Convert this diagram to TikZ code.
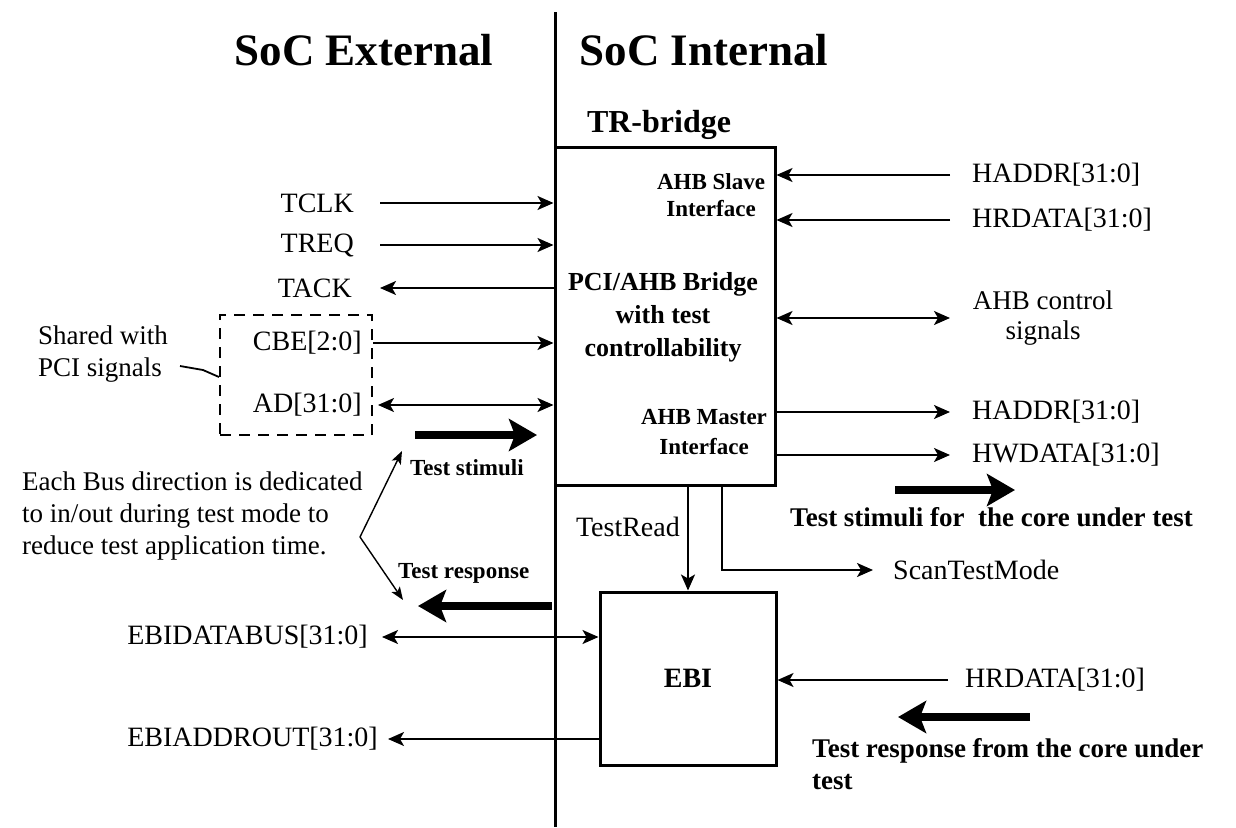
\documentclass[tikz,border=0pt]{standalone}
\usepackage{fontspec}
\setmainfont{Liberation Serif}
\usetikzlibrary{arrows.meta}
\tikzset{
  sigtip/.tip={Stealth[length=16pt,width=14pt,inset=4pt]},
  lbl/.style={inner sep=0pt, font=\fontsize{28}{32}\selectfont},
  note/.style={inner sep=0pt, align=left, font=\fontsize{27}{32}\selectfont},
  blbl/.style={inner sep=0pt, align=center, font=\bfseries\fontsize{23}{27}\selectfont},
  bnote/.style={inner sep=0pt, align=left, font=\bfseries\fontsize{23}{28}\selectfont},
  bbig/.style={inner sep=0pt, align=left, font=\bfseries\fontsize{27}{32}\selectfont},
  title/.style={inner sep=0pt, font=\bfseries\fontsize{45}{50}\selectfont},
  sig/.style={line width=1.8pt},
  fat/.style={line width=7.5pt, -{Stealth[length=28pt,width=32pt,inset=6pt]}},
  blockbox/.style={draw, line width=3pt, inner sep=0pt},
  dbox/.style={draw, line width=2pt, dash pattern=on 11pt off 8pt, inner sep=0pt},
}
\begin{document}
\begin{tikzpicture}[x=1pt,y=-1pt]
\useasboundingbox (0,0) rectangle (1236,827);

% titles
\node[title] (ext) at (364,50) {SoC External};
\node[title] (int) at (704,50) {SoC Internal};
\node[inner sep=0pt, font=\bfseries\fontsize{32}{36}\selectfont] (trb) at (659,125) {TR-bridge};

% blocks
\node[blockbox, minimum width=220pt, minimum height=338pt] (tr) at (665,316) {};
\node[blockbox, minimum width=176pt, minimum height=173pt, font=\bfseries\fontsize{28}{32}\selectfont] (ebi) at (688,678.5) {EBI};

% divider
\coordinate (dtop) at (555,12);
\coordinate (dbot) at (555,827);
\draw[line width=3pt] (dtop) -- (dbot);

% texts inside TR-bridge
\node[blbl] (slv) at (711,195) {AHB Slave\\Interface};
\node[inner sep=0pt, align=center, font=\bfseries\fontsize{26}{33}\selectfont] (brg) at (663,317) {PCI/AHB Bridge\\with test\\controllability};
\node[blbl, font=\bfseries\fontsize{23}{30}\selectfont] (mst) at (704,432) {AHB Master\\Interface};

% left signals
\node[lbl, anchor=east] (tclk) at (354,203) {TCLK};
\node[lbl, anchor=east] (treq) at (354,245) {TREQ};
\node[lbl, anchor=east] (tack) at (352,288) {TACK};
\node[lbl, anchor=east] (cbe) at (362,343) {CBE[2:0]};
\node[lbl, anchor=east] (ad) at (362,405) {AD[31:0]};
\node[dbox, minimum width=152pt, minimum height=120pt] (shbox) at (296,375) {};

\draw[sig,-sigtip] ([xshift=26pt]tclk.east) -- (tclk.east -| tr.west);
\draw[sig,-sigtip] ([xshift=26pt]treq.east) -- (treq.east -| tr.west);
\draw[sig,-sigtip] (tack.east -| tr.west) -- ([xshift=28pt]tack.east);
\draw[sig,-sigtip] (cbe.east -| shbox.east) -- (cbe.east -| tr.west);
\draw[sig,sigtip-sigtip] ([xshift=16pt]ad.east) -- (ad.east -| tr.west);

\node[note] (shr) at (103,354) {Shared with\\PCI signals};
\coordinate (ld1) at (180,366);
\coordinate (ld2) at (203,370);
\draw[sig] (ld1) -- (ld2) -- (shbox.west |- 0,377);

% test stimuli / response (left)
\coordinate (ts1) at (415,435);
\coordinate (ts2) at (537,435);
\draw[fat] (ts1) -- (ts2);
\node[bnote, anchor=west] (tstim) at (410,468) {Test stimuli};

\node[note, anchor=west] (each) at (22,516) {Each Bus direction is dedicated\\to in/out during test mode to\\reduce test application time.};
\coordinate (apex) at (360,537);
\coordinate (vt1) at (402,451);
\coordinate (vt2) at (403,600);
\draw[line width=1.4pt,-{Stealth[length=13pt,width=10pt,inset=3pt]}] (apex) -- (vt1);
\draw[line width=1.4pt,-{Stealth[length=13pt,width=10pt,inset=3pt]}] (apex) -- (vt2);

\node[bnote, anchor=west] (tresp) at (398,573) {Test response};
\coordinate (tr1) at (552,606);
\coordinate (tr2) at (418,606);
\draw[fat] (tr1) -- (tr2);

% EBI left side
\node[lbl, anchor=east] (edb) at (368,637) {EBIDATABUS[31:0]};
\node[lbl, anchor=east] (ead) at (378,739) {EBIADDROUT[31:0]};
\draw[sig,sigtip-sigtip] ([xshift=14pt]edb.east) -- (edb.east -| ebi.west);
\draw[sig,-sigtip] (ead.east -| ebi.west) -- ([xshift=10pt]ead.east);

% right side of TR-bridge
\node[lbl, anchor=west] (ha1) at (972,175) {HADDR[31:0]};
\node[lbl, anchor=west] (hr1) at (972,220) {HRDATA[31:0]};
\node[inner sep=0pt, align=center, font=\fontsize{27}{30}\selectfont] (ahbc) at (1043,318) {AHB control\\signals};
\node[lbl, anchor=west] (ha2) at (972,412) {HADDR[31:0]};
\node[lbl, anchor=west] (hw) at (972,455) {HWDATA[31:0]};

\draw[sig,-sigtip] ([xshift=-22pt]ha1.west) -- (ha1.west -| tr.east);
\draw[sig,-sigtip] ([xshift=-22pt]hr1.west) -- (hr1.west -| tr.east);
\draw[sig,sigtip-sigtip] (ahbc.center -| tr.east) -- ([xshift=-22pt]ahbc.center -| ha1.west);
\draw[sig,-sigtip] (ha2.west -| tr.east) -- ([xshift=-22pt]ha2.west);
\draw[sig,-sigtip] (hw.west -| tr.east) -- ([xshift=-22pt]hw.west);

\coordinate (ts3) at (895,490);
\coordinate (ts4) at (1015,490);
\draw[fat] (ts3) -- (ts4);
\node[bbig, anchor=west] (tsf) at (790,517) {Test stimuli for~ the core under test};

% TestRead and ScanTestMode
\node[lbl, anchor=east] (trd) at (680,527) {TestRead};
\draw[sig,-sigtip] (ebi.north |- tr.south) -- (ebi.north);
\node[lbl, anchor=west] (scan) at (893,570) {ScanTestMode};
\coordinate (sc0) at (722,485);
\draw[sig,-sigtip] (sc0) |- ([xshift=-20pt]scan.west);

% EBI right side
\node[lbl, anchor=west] (hr2) at (965,680) {HRDATA[31:0]};
\draw[sig,-sigtip] ([xshift=-17pt]hr2.west) -- (hr2.west -| ebi.east);
\coordinate (tr3) at (1030,717);
\coordinate (tr4) at (898,717);
\draw[fat] (tr3) -- (tr4);
\node[bbig, anchor=north west] (trf) at (812,738) {Test response from the core under\\test};
\end{tikzpicture}
\end{document}
